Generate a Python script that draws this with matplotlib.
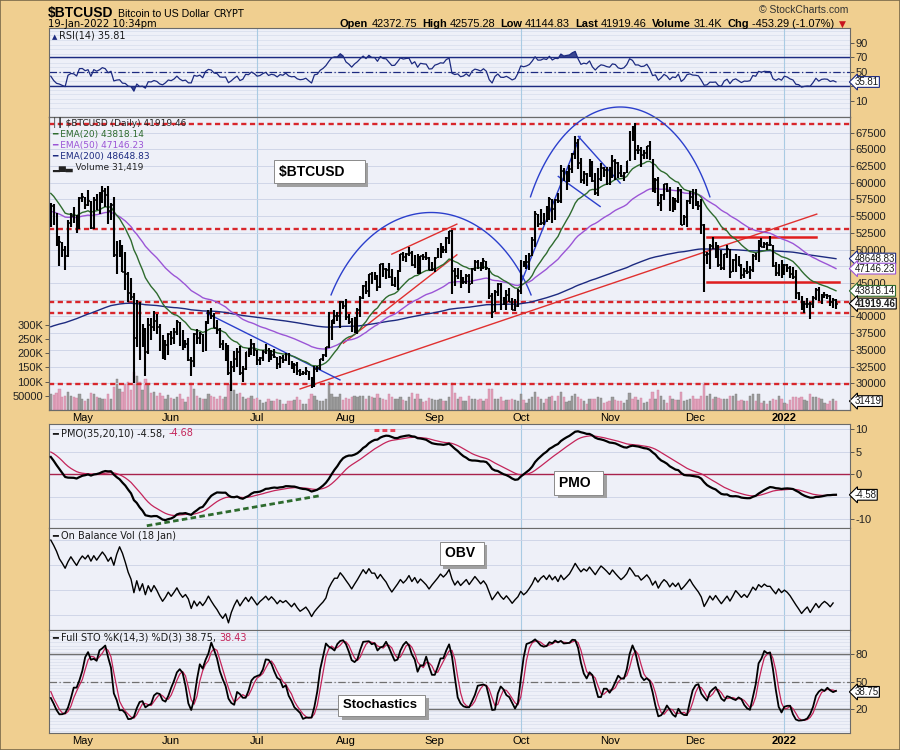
"""
$BTCUSD daily chart with RSI, EMAs, volume, PMO, OBV and full stochastics,
laid out like a StockCharts SharpChart.
"""

import numpy as np
import pandas as pd
import matplotlib
matplotlib.use("Agg")
import matplotlib.pyplot as plt
from matplotlib import patheffects
from matplotlib.patches import Rectangle

plt.rcParams['font.family'] = ['Liberation Sans', 'DejaVu Sans']

START = "2021-04-20"

# daily bars, thousands of USD (20 Apr 2021 .. 19 Jan 2022)
CLOSE = [
    56.5, 53.8, 51.7, 51.1, 50.0, 49.0, 54.0, 55.0, 54.8, 53.5, 57.7,
    57.8, 56.6, 57.2, 53.2, 57.4, 56.4, 57.3, 58.8, 58.2, 55.8, 56.7, 49.2, 49.7, 49.9, 46.7, 46.4,
    43.5, 42.9, 36.7, 40.7, 37.3, 37.5, 34.7, 38.7, 38.4, 39.3, 38.4, 35.7, 34.6, 35.7, 37.3,
    36.7, 37.6, 39.2, 36.9, 35.5, 35.8, 33.5, 33.4, 37.3, 36.7, 37.3, 35.5, 39.1, 40.5, 40.1,
    38.3, 38.0, 35.8, 35.6, 35.7, 31.6, 32.5, 33.7, 34.7, 31.6, 32.2, 34.7, 34.5, 35.9, 35.0,
    33.5, 33.8, 34.7, 35.3, 33.7, 34.2, 33.9, 32.9, 33.8, 33.5, 34.3, 33.1, 32.7, 32.8, 31.8, 31.4,
    31.5, 31.8, 30.8, 29.8, 32.1, 32.3, 33.6, 34.3, 35.4, 37.3, 39.4, 40.0, 40.0, 42.2, 41.6,
    39.9, 39.2, 38.2, 39.7, 40.9, 42.8, 44.6, 43.8, 46.3, 45.6, 45.6, 44.4, 47.8, 47.1, 47.0, 45.9,
    44.7, 44.8, 46.7, 49.3, 48.9, 49.3, 49.5, 47.7, 48.9, 46.9, 49.1, 48.9, 48.8, 47.0, 47.1,
    48.8, 49.3, 50.0, 49.9, 51.8, 52.7, 46.8, 46.1, 46.4, 44.9, 45.2, 46.1, 44.9, 47.1, 48.1,
    47.8, 47.3, 48.3, 47.3, 43.0, 40.7, 43.6, 44.9, 42.8, 42.7, 43.2, 42.2, 41.0, 41.5, 43.8,
    48.1, 47.7, 48.2, 49.1, 51.5, 55.3, 53.8, 53.9, 55.0, 54.7, 57.5, 56.0, 57.4, 57.3, 61.7, 60.9,
    61.5, 62.0, 64.3, 65.9, 63.0, 60.4, 61.3, 61.0, 63.2, 60.3, 58.5, 60.6, 62.2, 61.9, 61.3,
    61.0, 63.2, 62.9, 61.4, 61.0, 61.5, 63.3, 67.6, 66.9, 64.9, 64.9, 64.2, 64.4, 65.5, 63.6,
    60.1, 60.4, 56.9, 58.1, 59.8, 58.7, 56.3, 57.6, 57.2, 58.9, 53.6, 54.8, 57.3, 57.8, 57.0,
    56.9, 56.5, 53.6, 49.2, 49.4, 50.6, 50.5, 50.6, 47.7, 47.2, 49.3, 50.1, 46.7, 48.4, 48.9, 47.6,
    46.2, 46.8, 46.7, 46.9, 49.0, 48.6, 50.8, 50.4, 50.8, 50.7, 50.7, 47.5, 46.5, 47.1, 46.3,
    47.7, 47.3, 46.4, 45.9, 43.5, 43.2, 41.6, 41.8, 41.9, 41.8, 42.7, 43.9, 42.6, 43.1, 43.2,
    43.1, 42.2, 42.4, 41.92,
]
HIGH = [
    57.0, 56.8, 55.4, 52.1, 51.1, 50.5, 54.4, 55.5, 56.4, 55.2, 57.9,
    58.4, 57.9, 58.9, 57.2, 57.9, 58.3, 58.6, 59.5, 59.2, 59.5, 56.9, 57.8, 51.3, 51.4, 50.7, 49.7,
    46.6, 45.7, 43.5, 42.4, 42.1, 38.8, 38.2, 39.8, 39.8, 40.8, 40.4, 38.8, 37.2, 36.4, 37.5,
    37.8, 38.2, 39.5, 39.2, 37.9, 36.4, 36.8, 34.0, 37.5, 38.1, 37.6, 37.4, 39.3, 41.0, 41.3,
    40.5, 39.5, 38.2, 36.4, 36.0, 35.7, 33.3, 34.8, 35.2, 35.5, 32.6, 34.7, 35.3, 36.6, 36.0,
    35.0, 33.9, 34.9, 35.9, 35.3, 35.0, 35.1, 33.9, 34.1, 34.2, 34.6, 34.6, 33.3, 33.1, 33.2, 32.2,
    31.9, 32.4, 31.9, 31.0, 32.6, 32.6, 33.6, 34.4, 35.4, 40.6, 39.5, 40.9, 40.6, 42.3, 42.3,
    42.6, 40.4, 39.7, 39.9, 41.3, 43.0, 44.7, 45.3, 46.4, 46.6, 46.7, 46.2, 47.9, 48.0, 47.3, 48.0,
    47.1, 45.9, 46.9, 49.4, 49.7, 49.5, 50.4, 49.8, 49.2, 49.3, 49.1, 49.3, 49.6, 48.9, 48.2,
    48.9, 50.3, 51.0, 50.5, 51.9, 52.8, 52.9, 47.3, 47.3, 47.0, 45.9, 46.4, 46.3, 47.2, 48.4,
    48.4, 48.1, 48.8, 48.3, 47.3, 43.5, 44.0, 45.0, 45.0, 42.9, 43.9, 44.3, 42.8, 42.6, 44.1,
    48.4, 48.3, 49.2, 49.5, 51.9, 55.8, 55.3, 56.1, 55.4, 56.5, 57.8, 57.6, 57.6, 58.5, 62.6, 62.2,
    61.7, 62.6, 64.4, 67.0, 66.6, 63.7, 61.7, 61.4, 63.6, 63.3, 61.4, 62.2, 62.9, 62.3, 62.4,
    62.4, 64.2, 63.5, 63.1, 62.6, 61.6, 63.3, 67.7, 68.5, 69.0, 65.6, 65.4, 64.9, 65.5, 66.3,
    63.6, 60.7, 60.9, 58.3, 59.8, 60.0, 59.3, 57.8, 57.7, 59.4, 59.1, 55.2, 57.4, 58.8, 59.1,
    59.0, 57.3, 57.5, 53.8, 49.7, 50.8, 51.9, 51.1, 50.7, 50.0, 49.4, 50.7, 50.1, 48.6, 49.4, 49.0,
    47.9, 47.3, 48.3, 47.5, 49.3, 49.5, 51.4, 51.8, 51.1, 51.2, 52.0, 50.7, 48.1, 47.8, 48.5,
    47.8, 47.9, 47.5, 47.4, 47.0, 43.7, 43.1, 42.3, 42.7, 42.2, 43.0, 44.2, 44.4, 43.4, 43.7,
    43.4, 43.2, 42.7, 42.58,
]
LOW = [
    53.4, 53.6, 50.6, 47.5, 48.9, 47.0, 48.9, 53.3, 53.9, 52.4, 53.1,
    57.1, 56.1, 56.5, 53.1, 53.0, 55.9, 55.3, 56.9, 56.3, 53.8, 54.4, 48.9, 46.3, 48.9, 46.7, 43.9,
    42.2, 42.5, 30.1, 35.4, 33.5, 35.4, 31.1, 34.4, 36.5, 37.8, 37.3, 34.8, 33.6, 33.5, 34.2,
    35.7, 35.9, 37.2, 35.6, 34.9, 35.3, 33.4, 31.1, 32.4, 35.9, 35.8, 34.7, 34.8, 38.8, 39.6,
    38.2, 37.4, 35.2, 34.9, 33.4, 31.3, 28.8, 31.7, 32.4, 31.3, 30.2, 32.0, 33.9, 34.3, 34.1,
    32.7, 32.7, 33.4, 34.4, 33.2, 33.5, 33.8, 32.1, 32.3, 33.1, 33.4, 32.7, 32.2, 31.6, 31.2, 31.1,
    31.2, 31.2, 30.5, 29.3, 29.5, 31.7, 32.0, 33.4, 33.9, 35.3, 36.4, 38.8, 39.3, 38.3, 41.1,
    39.5, 38.8, 37.6, 37.5, 37.4, 39.9, 42.6, 43.4, 42.9, 44.8, 45.4, 43.8, 44.2, 45.9, 45.6, 45.8,
    44.5, 44.4, 43.9, 46.6, 48.3, 48.1, 49.0, 47.6, 47.2, 46.4, 46.4, 48.5, 48.4, 46.9, 46.8,
    46.6, 48.7, 48.8, 49.5, 49.5, 50.9, 43.3, 44.6, 45.6, 44.2, 44.8, 44.8, 43.5, 44.8, 46.8,
    47.1, 46.8, 47.1, 47.0, 42.6, 39.7, 40.6, 43.1, 40.9, 41.7, 40.9, 42.1, 40.9, 40.8, 41.4,
    43.3, 47.4, 47.1, 46.9, 49.1, 50.4, 53.4, 53.6, 53.7, 54.1, 54.4, 54.0, 54.4, 56.9, 56.9, 60.3,
    58.9, 60.1, 61.4, 63.6, 62.1, 60.0, 59.8, 59.5, 60.8, 60.1, 58.1, 58.0, 60.2, 60.8, 59.7,
    59.7, 60.7, 60.4, 60.7, 60.8, 60.2, 61.4, 63.3, 66.3, 63.4, 64.3, 62.3, 63.6, 63.6, 63.4,
    58.6, 58.5, 56.5, 55.7, 57.4, 58.6, 55.8, 55.6, 55.9, 57.0, 53.6, 53.7, 53.4, 56.8, 56.0,
    56.5, 55.9, 52.3, 43.6, 47.9, 47.1, 50.1, 48.7, 47.4, 47.0, 46.9, 48.7, 45.8, 46.6, 46.7, 47.5,
    45.6, 45.7, 46.4, 45.6, 46.7, 48.5, 48.1, 50.4, 50.2, 49.9, 50.5, 47.4, 46.1, 46.0, 45.7,
    46.2, 46.7, 45.7, 45.6, 42.6, 42.5, 41.0, 40.5, 41.3, 39.6, 41.3, 42.5, 42.3, 41.9, 42.7,
    42.6, 41.6, 41.3, 41.14,
]
# daily volume, thousands
VOLUME = [
    55, 52, 60, 75, 45, 50, 65, 50, 45, 42, 55,
    40, 30, 38, 60, 55, 45, 42, 40, 38, 55, 40, 80, 110, 75, 65, 90, 100, 70, 135, 120,
    100, 70, 110, 90, 60, 62, 48, 60, 50, 40, 52,
    42, 40, 45, 55, 40, 28, 45, 95, 75, 50, 42, 38, 40, 55, 50, 45, 40, 50, 38, 45,
    90, 105, 70, 55, 60, 45, 40, 42, 48, 40,
    42, 35, 25, 28, 38, 32, 30, 40, 34, 22, 20, 30, 32, 35, 45, 35, 20, 22, 40, 55,
    48, 35, 33, 30, 40, 98, 55, 45, 45, 55, 35,
    42, 40, 45, 48, 45, 50, 50, 40, 50, 45, 42, 55, 42, 40, 36, 55, 45, 40, 40, 45,
    35, 30, 45, 60, 40, 55, 40, 28, 30, 42, 40,
    35, 35, 40, 30, 30, 45, 95, 60, 40, 45, 30, 30, 50, 40, 40, 35, 38, 30, 40, 75,
    75, 40, 40, 45, 30, 35, 35, 40, 35, 30,
    55, 35, 25, 40, 45, 62, 45, 40, 24, 38, 45, 48, 33, 50, 64, 45, 28, 30, 50, 55,
    45, 40, 30, 22, 40, 38, 38, 45, 42, 25, 28,
    32, 45, 35, 32, 30, 25, 35, 60, 38, 45, 35, 42, 25, 28, 38, 65, 40, 70, 50, 35,
    25, 48, 38, 34, 35, 65, 30, 35, 38, 50,
    40, 38, 50, 95, 50, 55, 40, 45, 42, 40, 38, 38, 50, 50, 55, 32, 36, 30, 30, 48,
    55, 30, 55, 25, 30, 22, 30, 40, 35, 50, 38,
    25, 22, 35, 45, 45, 42, 45, 35, 30, 55, 45, 45, 42, 38, 25, 22, 32, 38, 31.419,
]

# 2-19 Apr 2021, only used to warm up RSI and stochastics
PRE_CLOSE = [59.0, 57.1, 58.2, 59.1, 57.9, 56.0, 58.0, 58.1, 59.8, 59.8, 59.9, 63.5, 62.9, 63.2, 61.5, 60.1, 56.2, 55.7]
PRE_HIGH = [60.0, 59.8, 58.5, 59.3, 59.5, 58.7, 58.1, 58.8, 61.2, 60.7, 61.2, 63.8, 64.9, 63.8, 63.6, 62.5, 61.0, 57.5]
PRE_LOW = [58.5, 57.0, 56.5, 56.9, 57.6, 55.5, 55.8, 57.7, 57.9, 59.2, 59.5, 59.9, 61.3, 62.2, 60.2, 59.8, 52.0, 54.2]

# indicator values on the first plotted day
EMA_START = {20: 58400, 50: 55700, 200: 38450}
PMO_START = (-2.0, 3.8, 4.9)    # smoothed ROC x10, PMO, signal

# values printed in the chart texts
QUOTE = [("Open", "42372.75"), ("High", "42575.28"), ("Low", "41144.83"), ("Last", "41919.46"),
         ("Volume", "31.4K"), ("Chg", "-453.29 (-1.07%)")]
EMA_LAST = {20: 43818.14, 50: 47146.23, 200: 48648.83}
LAST = 41919.46
VOL_LAST = 31419
RSI_LAST = 35.81
PMO_LAST = (-4.58, -4.68)
STO_LAST = (38.75, 38.43)

# chartist annotations: (day index, price)
RESIST_LEVELS = [68800, 53100, 42200, 40550, 29900]
RED_LINES = [((87.0, 29150), (267.3, 55300)),
             ((102.1, 35990), (141.7, 49210)),
             ((119.0, 49310), (141.7, 53800))]
BOX_LINES = [((229.0, 51860), (267.1, 51860)),
             ((228.9, 45210), (275.1, 45210))]
BLUE_LINES = [((54.4, 40480), (100.9, 30500)),
              ((163.8, 44720), (184.7, 66920)),
              ((184.1, 66920), (198.7, 59940)),
              ((177.1, 60930), (191.7, 56440))]
ARCS = [(132.7, 34.9, 43220, 55540), (198.7, 31.3, 57890, 71320)]   # centre, half width, end, top
PMO_TREND = ((33.5, -11.44), (93.9, -4.78))
PMO_MARK = ((112.8, 9.76), (120.5, 9.76))

W, H = 900, 750
BG = '#F0CF90'
PANEL = '#EEF0F8'
GRID = '#CBD2E6'
NAVY = '#1C2A80'
GREEN = '#2E6B2E'
PURPLE = '#9B55D6'
RED = '#D8262B'
BLUE = '#2B3FCC'
SIG = '#C4245A'


def box(x0, y0, x1, y1):
    return [x0 / W, 1 - y1 / H, (x1 - x0) / W, (y1 - y0) / H]


def ema(x, alpha, seed):
    out = np.empty(len(x))
    out[0] = seed
    for i in range(1, len(x)):
        out[i] = out[i - 1] + alpha * (x[i] - out[i - 1])
    return out


close = np.array(CLOSE) * 1000
high = np.array(HIGH) * 1000
low = np.array(LOW) * 1000
vol = np.array(VOLUME) * 1000
n = len(close)
idx = np.arange(n)
dates = pd.date_range(START, periods=n, freq="D")

full_c = np.r_[np.array(PRE_CLOSE) * 1000, close]
full_h = np.r_[np.array(PRE_HIGH) * 1000, high]
full_l = np.r_[np.array(PRE_LOW) * 1000, low]
k0 = len(PRE_CLOSE)

# EMAs
emas = {p: ema(close, 2 / (p + 1), EMA_START[p]) for p in (20, 50, 200)}

# RSI(14), Wilder smoothing
d = np.diff(full_c)
gain, loss = np.clip(d, 0, None), np.clip(-d, 0, None)
rsi_full = np.full(len(full_c), np.nan)
ag, al = gain[:14].mean(), loss[:14].mean()
rsi_full[14] = 100 - 100 / (1 + ag / al)
for j in range(15, len(full_c)):
    ag = (ag * 13 + gain[j - 1]) / 14
    al = (al * 13 + loss[j - 1]) / 14
    rsi_full[j] = 100 - 100 / (1 + ag / al)
rsi = rsi_full[k0:]

# PMO(35,20,10)
roc = full_c[1:] / full_c[:-1] * 100 - 100
roc = roc[k0 - 1:]
inner, pmo_v, sig_v = PMO_START
pmo = [pmo_v]
sig = [sig_v]
for i in range(1, n):
    inner += 2 / 35 * (10 * roc[i] - inner)
    pmo_v += 2 / 20 * (inner - pmo_v)
    sig_v += 2 / 11 * (pmo_v - sig_v)
    pmo.append(pmo_v)
    sig.append(sig_v)
pmo, sig = np.array(pmo), np.array(sig)

# OBV
step = np.sign(np.diff(close)) * vol[1:]
obv = np.r_[0, np.cumsum(step)]

# Full stochastics 14,3,3
fast = np.full(len(full_c), np.nan)
for j in range(13, len(full_c)):
    hh, ll = full_h[j - 13:j + 1].max(), full_l[j - 13:j + 1].min()
    fast[j] = 100 * (full_c[j] - ll) / (hh - ll)
slow_k = pd.Series(fast).rolling(3).mean().to_numpy()
slow_d = pd.Series(slow_k).rolling(3).mean().to_numpy()
sto_k, sto_d = slow_k[k0:], slow_d[k0:]

up_day = np.r_[close[0] >= full_c[k0 - 1], np.diff(close) >= 0]

month_pos = [i for i, dt in enumerate(dates) if dt.day == 1]
month_lab = ['2022' if dates[i].month == 1 else dates[i].strftime('%b') for i in month_pos]
quarter_pos = [i for i in month_pos if dates[i].month in (1, 7, 10)]

# ---------------------------------------------------------------
fig = plt.figure(figsize=(W / 100, H / 100), dpi=100, facecolor=BG)
L, R = 49, 850
ax_rsi = fig.add_axes(box(L, 28.5, R, 116.7))
ax_vol = fig.add_axes(box(L, 116.7, R, 410))
ax_px = fig.add_axes(box(L, 116.7, R, 410))
ax_pmo = fig.add_axes(box(L, 424.3, R, 527.7))
ax_obv = fig.add_axes(box(L, 527.7, R, 630.3))
ax_sto = fig.add_axes(box(L, 630.3, R, 733.3))


def style(ax, face=PANEL):
    ax.set_facecolor(face)
    ax.set_xlim(-0.63, 278.9)
    ax.set_xticks(month_pos)
    ax.set_xticklabels(month_lab)
    ax.tick_params(axis='x', length=0, labelbottom=False, labelsize=8, pad=2)
    for s in ax.spines.values():
        s.set_color('#6A6A6A')
        s.set_linewidth(0.8)
    ax.yaxis.tick_right()
    ax.tick_params(axis='y', direction='out', length=3, width=0.6, color='#444',
                   labelsize=8, pad=1, labelcolor='#222')


def tick_labels(ax, ticks, hidden=()):
    # labels sitting under a value tag are left blank, as on the chart
    ax.set_yticks(ticks)
    ax.set_yticklabels(['' if v in hidden else f"{v:g}" for v in ticks])


for a in (ax_rsi, ax_vol, ax_pmo, ax_obv, ax_sto):
    style(a)
    for p in quarter_pos:
        a.axvline(p, color='#A9CBE3', lw=0.8, zorder=0.5)
style(ax_px, face='none')

# RSI panel
ax_rsi.set_ylim(-12.1, 109.6)
for v in np.arange(0, 110, 6.25):
    ax_rsi.axhline(v, color='#D7DCEC', lw=0.5, zorder=0.2)
tick_labels(ax_rsi, [10, 30, 50, 70, 90], hidden=(30,))
for v in (30, 70):
    ax_rsi.axhline(v, color=NAVY, lw=1.0, zorder=1)
ax_rsi.axhline(50, color=NAVY, lw=0.9, ls=(0, (6, 2, 1, 2)), zorder=1)
ax_rsi.plot(idx, rsi, color=NAVY, lw=0.9, zorder=3)
ax_rsi.fill_between(idx, rsi, 70, where=rsi > 70, interpolate=True, color=NAVY, alpha=0.85, lw=0)
ax_rsi.fill_between(idx, rsi, 30, where=rsi < 30, interpolate=True, color=NAVY, alpha=0.85, lw=0)

# volume under price
ax_vol.set_ylim(0, 1035000)
ax_vol.bar(idx, vol, width=0.8, color=np.where(up_day, '#9C9C9C', '#E2A2BC'),
           edgecolor=np.where(up_day, '#808080', '#C8859F'), lw=0.3, zorder=1)
ax_vol.yaxis.tick_left()
ax_vol.set_yticks([50000, 100000, 150000, 200000, 250000, 300000])
ax_vol.set_yticklabels(['50000', '100K', '150K', '200K', '250K', '300K'])
ax_vol.tick_params(axis='y', direction='out', length=3, width=0.6, color='#444',
                   labelsize=8, pad=1, labelcolor='#222')

# price panel
ax_px.set_ylim(26000, 69870)
pticks = list(range(30000, 67501, 2500))
tick_labels(ax_px, pticks, hidden=(42500, 47500))
for v in pticks:
    ax_px.axhline(v, color=GRID, lw=0.6, zorder=0.5)
ax_px.tick_params(axis='x', labelbottom=True)
ax_px.get_xticklabels()[-1].set_fontweight('bold')
for lvl in RESIST_LEVELS:
    ax_px.axhline(lvl, color=RED, lw=1.7, ls=(0, (2.2, 1.5)), zorder=2)
for (x0, y0), (x1, y1) in RED_LINES:
    ax_px.plot([x0, x1], [y0, y1], color='#E0302F', lw=1.0, zorder=2)
for (x0, y0), (x1, y1) in BOX_LINES:
    ax_px.plot([x0, x1], [y0, y1], color='#E01E1E', lw=1.8, zorder=2)
for (x0, y0), (x1, y1) in BLUE_LINES:
    ax_px.plot([x0, x1], [y0, y1], color=BLUE, lw=1.0, zorder=2)
for c, half, end_p, top_p in ARCS:
    a = half / 0.87
    t = np.linspace(-half, half, 120)
    s0 = np.sqrt(1 - 0.87 ** 2)
    b = (top_p - end_p) / (1 - s0)
    ax_px.plot(c + t, top_p - b + b * np.sqrt(1 - (t / a) ** 2), color=BLUE, lw=1.0,
               zorder=2, clip_on=False)
ax_px.plot(idx, emas[200], color=NAVY, lw=1.0, zorder=3)
ax_px.plot(idx, emas[50], color=PURPLE, lw=1.0, zorder=3)
ax_px.plot(idx, emas[20], color=GREEN, lw=1.0, zorder=3)
ax_px.vlines(idx, low, high, colors='black', lw=1.5, zorder=4)
ax_px.hlines(close, idx, idx + 0.6, colors='black', lw=1.1, zorder=4)

# PMO panel
ax_pmo.set_ylim(-11.87, 11.04)
tick_labels(ax_pmo, [-10, -5, 0, 5, 10], hidden=(-5,))
for v in (-10, -5, 5, 10):
    ax_pmo.axhline(v, color=GRID, lw=0.6, zorder=0.5)
ax_pmo.axhline(0, color='#A8224C', lw=1.0, zorder=1)
ax_pmo.plot(idx, sig, color=SIG, lw=0.9, zorder=3)
ax_pmo.plot(idx, pmo, color='black', lw=1.6, zorder=4)
(x0, y0), (x1, y1) = PMO_TREND
ax_pmo.plot([x0, x1], [y0, y1], color='#2E6B2E', lw=2.0, ls=(0, (2, 1.2)), zorder=5, clip_on=False)
(x0, y0), (x1, y1) = PMO_MARK
ax_pmo.plot([x0, x1], [y0, y1], color='#E8455A', lw=2.2, ls=(0, (1.6, 1)), zorder=5)

# OBV panel (stops a day earlier, as on the chart)
obv_show = obv[:n - 1]
rng = obv_show.max() - obv_show.min()
ax_obv.set_ylim(obv_show.min() - 0.09 * rng, obv_show.max() + 0.15 * rng)
ax_obv.yaxis.set_major_locator(matplotlib.ticker.MaxNLocator(5))
ax_obv.yaxis.grid(True, color=GRID, lw=0.6)
ax_obv.set_axisbelow(True)
ax_obv.tick_params(axis='y', labelright=False, length=0)
ax_obv.plot(idx[:n - 1], obv_show, color='black', lw=1.0, zorder=3)

# Stochastics panel
ax_sto.set_ylim(-6.7, 106.3)
for v in np.arange(-4, 106, 3.6):
    ax_sto.axhline(v, color='#D9DEEC', lw=0.5, zorder=0.2)
tick_labels(ax_sto, [20, 50, 80])
for v in (20, 80):
    ax_sto.axhline(v, color='#707070', lw=1.0, zorder=1)
ax_sto.axhline(50, color='#707070', lw=0.9, ls=(0, (6, 2, 1, 2)), zorder=1)
ax_sto.plot(idx, sto_d, color=SIG, lw=0.9, zorder=3)
ax_sto.plot(idx, sto_k, color='black', lw=1.3, zorder=4)
ax_sto.tick_params(axis='x', labelbottom=True)
ax_sto.get_xticklabels()[-1].set_fontweight('bold')


# right-hand value tags
def tag(ax, value, text, ec, bold=False):
    ax.annotate(text, xy=(1, value), xycoords=ax.get_yaxis_transform(), xytext=(3.5, 0),
                textcoords='offset points', ha='left', va='center', fontsize=7,
                fontweight='bold' if bold else 'normal', color='#1A1A1A',
                bbox=dict(boxstyle='larrow,pad=0.04', fc='white', ec=ec, lw=0.8),
                annotation_clip=False, zorder=10)


tag(ax_rsi, RSI_LAST, f"{RSI_LAST:.2f}", NAVY)
tag(ax_px, EMA_LAST[200], f"{EMA_LAST[200]:.2f}", NAVY)
tag(ax_px, EMA_LAST[50], f"{EMA_LAST[50]:.2f}", PURPLE)
tag(ax_px, EMA_LAST[20], f"{EMA_LAST[20]:.2f}", GREEN)
tag(ax_px, LAST, f"{LAST:.2f}", 'black', bold=True)
tag(ax_vol, VOL_LAST, str(VOL_LAST), 'black')
tag(ax_pmo, PMO_LAST[0], f"{PMO_LAST[0]:.2f}", 'black')
tag(ax_sto, STO_LAST[0], f"{STO_LAST[0]:.2f}", 'black')


# annotation boxes with a drop shadow
def note(ax, xf, yf, text, size=10):
    t = ax.text(xf, yf, text, transform=ax.transAxes, fontsize=size, fontweight='bold',
                color='black', va='center', ha='left', zorder=9,
                bbox=dict(boxstyle='square,pad=0.35', fc='white', ec='#8A8A8A', lw=0.7))
    t.get_bbox_patch().set_path_effects([
        patheffects.SimplePatchShadow(offset=(2.5, -2.5), shadow_rgbFace='#A0A0A0', alpha=1),
        patheffects.Normal()])


note(ax_px, 0.287, 0.813, "$BTCUSD    ", 10)
note(ax_pmo, 0.637, 0.432, "PMO  ", 10)
note(ax_obv, 0.494, 0.749, "OBV ", 10)
note(ax_sto, 0.367, 0.27, "Stochastics ", 9.5)

# texts written in pixel positions of the page
renderer = fig.canvas.get_renderer()


def run(x, y, pieces):
    for txt, kw, gap in pieces:
        t = fig.text(x / W, 1 - y / H, txt, va='baseline', ha='left', **kw)
        x += t.get_window_extent(renderer).width + gap


run(48, 17, [("$BTCUSD", dict(fontsize=10, fontweight='bold'), 4),
             ("Bitcoin to US Dollar", dict(fontsize=7.6), 5),
             ("CRYPT", dict(fontsize=7, family='DejaVu Sans'), 0)])
run(48, 27, [("19-Jan-2022 10:34pm", dict(fontsize=7.2, family='DejaVu Sans'), 0)])
fig.text(848 / W, 1 - 13 / H, "\u00a9 StockCharts.com", fontsize=7.5, color='#333',
         ha='right', va='baseline')

B = dict(fontsize=7.9, fontweight='bold')
N = dict(fontsize=7.9)
row = []
for lab, val in QUOTE:
    row += [(lab, B, 3), (val, N, 5)]
row.append(("\u25bc", dict(fontsize=6.5, color='#C8141E', family='DejaVu Sans'), 0))
run(340, 27, row)

LEG = dict(fontsize=7, family='DejaVu Sans')
run(52, 39, [("\u25b2", dict(fontsize=5, color=NAVY, family='DejaVu Sans'), 2),
             (f"RSI(14) {RSI_LAST:.2f}", dict(LEG, color='#1A1A1A'), 0)])

LEG2 = dict(fontsize=6.5, family='DejaVu Sans')
run(52, 126, [("\u2502\u2503 $BTCUSD (Daily) 41919.46", dict(LEG2, color='#222'), 0)])
run(52, 137, [(f"\u2501 EMA(20) {EMA_LAST[20]:.2f}", dict(LEG2, color=GREEN), 0)])
run(52, 148, [(f"\u2501 EMA(50) {EMA_LAST[50]:.2f}", dict(LEG2, color=PURPLE), 0)])
run(52, 159, [(f"\u2501 EMA(200) {EMA_LAST[200]:.2f}", dict(LEG2, color=NAVY), 0)])
run(52, 170, [(f"\u2582\u2585\u2583 Volume {VOL_LAST:,}", dict(LEG2, color='#222'), 0)])

run(52, 436, [(f"\u2501 PMO(35,20,10) {PMO_LAST[0]:.2f}, ", dict(LEG, color='#1A1A1A'), 0),
              (f"{PMO_LAST[1]:.2f}", dict(LEG, color=SIG), 0)])
run(52, 539, [("\u2501 On Balance Vol (18 Jan)", dict(LEG, color='#1A1A1A'), 0)])
run(52, 641, [(f"\u2501 Full STO %K(14,3) %D(3) {STO_LAST[0]:.2f}, ", dict(LEG, color='#1A1A1A'), 0),
              (f"{STO_LAST[1]:.2f}", dict(LEG, color=SIG), 0)])

fig.patches.append(Rectangle((0, 0), 1, 1, transform=fig.transFigure, fill=False,
                             ec='#7A6A4A', lw=1.2))

fig.savefig("out.png", dpi=100, facecolor=BG)
